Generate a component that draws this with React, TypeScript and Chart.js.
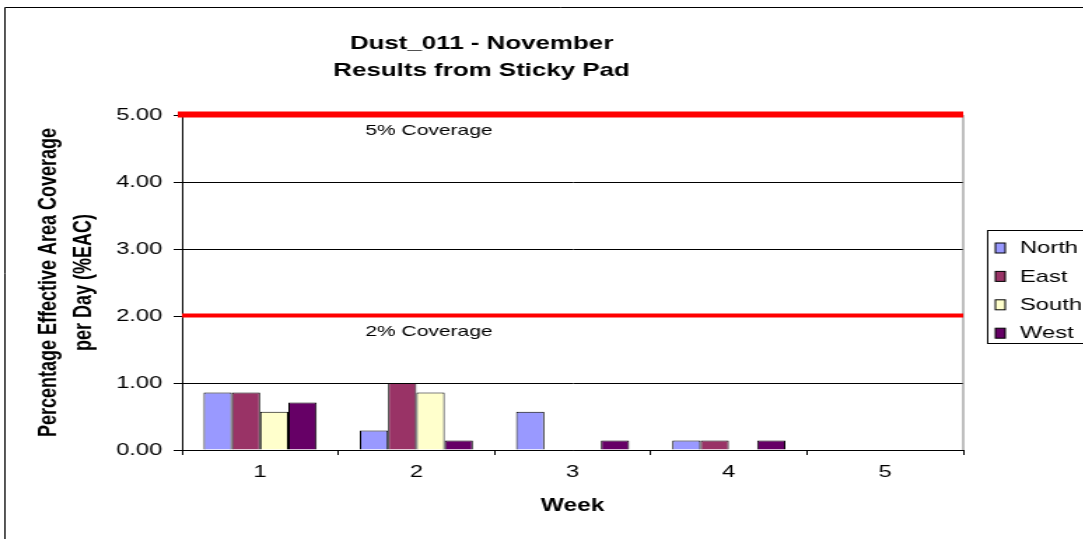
import React, { useEffect, useRef } from "react";
import { Chart, registerables } from "chart.js";

Chart.register(...registerables);

// ---- data ----
const weeks = ["1", "2", "3", "4", "5"];
const seriesNames = ["North", "East", "South", "West"];
const north = [0.86, 0.29, 0.57, 0.14, 0];
const east = [0.86, 1.0, 0, 0.14, 0];
const south = [0.57, 0.86, 0, 0, 0];
const west = [0.71, 0.14, 0.14, 0.14, 0];
const seriesColors = ["#9999FF", "#993366", "#FFFFCC", "#660066"];
const thresholdValues = [5, 2];
const thresholdLabels = ["5% Coverage", "2% Coverage"];
const titleLines = ["Dust_011 - November", "Results from Sticky Pad"];
const yTitleLines = ["Percentage Effective Area Coverage", "per Day (%EAC)"];
const xTitle = "Week";
const yMin = 0;
const yMax = 5;
const yStep = 1;

// ---- layout (unstretched canvas coordinates) ----
const S = 1.4; // horizontal stretch of the original rendering
const W = 796;
const H = 539;
const FONT = "'Liberation Sans', Arial, sans-serif";

const decorPlugin = {
  id: "decor",
  afterDatasetsDraw(chart: any) {
    const { ctx, chartArea, scales } = chart;
    const y = scales.y;
    ctx.save();
    // right border of plot area
    ctx.strokeStyle = "#808080";
    ctx.lineWidth = 1;
    ctx.beginPath();
    ctx.moveTo(chartArea.right, chartArea.top);
    ctx.lineTo(chartArea.right, chartArea.bottom);
    ctx.stroke();
    // threshold lines
    const widths = [6, 4];
    const lefts = [chartArea.left - 3, chartArea.left];
    thresholdValues.forEach((v, i) => {
      const py = y.getPixelForValue(v) - 0.5;
      ctx.strokeStyle = "#FF0000";
      ctx.lineWidth = widths[i];
      ctx.beginPath();
      ctx.moveTo(lefts[i], py);
      ctx.lineTo(chartArea.right, py);
      ctx.stroke();
      ctx.fillStyle = "#000";
      ctx.font = `15px ${FONT}`;
      ctx.textBaseline = "middle";
      ctx.textAlign = "left";
      ctx.fillText(thresholdLabels[i], 261, py + 16.5);
    });
    ctx.restore();
  },
  afterDraw(chart: any) {
    const { ctx } = chart;
    ctx.save();
    // outer chart frame (left & top visible)
    ctx.strokeStyle = "#000";
    ctx.lineWidth = 1;
    ctx.beginPath();
    ctx.moveTo(3.5, H + 2);
    ctx.lineTo(3.5, 7.5);
    ctx.lineTo(W + 2, 7.5);
    ctx.stroke();
    // legend
    const lx = 705;
    const ly = 230.5;
    ctx.strokeRect(lx + 0.5, ly, 200, 113);
    chart.data.datasets.forEach((ds: any, i: number) => {
      const cy = 248 + i * 28.4;
      ctx.fillStyle = ds.backgroundColor;
      ctx.fillRect(711, cy - 5, 7, 10);
      ctx.strokeStyle = "#000";
      ctx.strokeRect(711, cy - 5, 7, 10);
      ctx.fillStyle = "#000";
      ctx.font = `17px ${FONT}`;
      ctx.textBaseline = "middle";
      ctx.textAlign = "left";
      ctx.fillText(ds.label, 728.5, cy + 0.5);
    });
    ctx.restore();
  },
};

export default function App() {
  const ref = useRef<HTMLCanvasElement | null>(null);

  useEffect(() => {
    if (!ref.current) return;
    const seriesValues = [north, east, south, west];
    const chart = new Chart(ref.current, {
      type: "bar",
      data: {
        labels: weeks,
        datasets: seriesNames.map((name, i) => ({
          label: name,
          data: seriesValues[i],
          backgroundColor: seriesColors[i],
          borderColor: "#000",
          borderWidth: 1,
          categoryPercentage: 0.724,
          barPercentage: 1,
        })),
      },
      options: {
        responsive: false,
        animation: false,
        events: [],
        layout: { padding: { left: 0, top: 0, bottom: 0, right: 108 } },
        plugins: {
          legend: { display: false },
          tooltip: { enabled: false },
          title: {
            display: true,
            text: titleLines,
            color: "#000",
            font: { family: FONT, size: 18.5, weight: "bold", lineHeight: 27 / 18.5 },
            padding: { top: 30, bottom: 31 },
          },
        },
        scales: {
          x: {
            grid: {
              offset: true,
              drawOnChartArea: false,
              drawTicks: true,
              tickLength: 5,
              color: "#000",
            },
            border: { display: true, color: "#000", width: 1 },
            ticks: {
              color: "#000",
              font: { family: FONT, size: 17 },
              padding: 7,
              maxRotation: 0,
            },
            title: {
              display: true,
              text: xTitle,
              color: "#000",
              font: { family: FONT, size: 17.5, weight: "bold", lineHeight: 1.2 },
              padding: { top: 0, bottom: 22.5 },
            },
            afterFit(scale: any) {
              scale.height = 89;
            },
          },
          y: {
            min: yMin,
            max: yMax,
            grid: {
              color: "#000",
              lineWidth: 1,
              drawTicks: true,
              tickLength: 6,
            },
            border: { display: true, color: "#000", width: 1 },
            ticks: {
              stepSize: yStep,
              color: "#000",
              font: { family: FONT, size: 17 },
              padding: 8,
              callback: (v: any) => Number(v).toFixed(2),
            },
            title: {
              display: true,
              text: yTitleLines,
              color: "#000",
              font: { family: FONT, size: 18, weight: "bold", lineHeight: 25 / 18 },
              padding: { top: 23, bottom: 0 },
            },
            afterFit(scale: any) {
              scale.width = 130;
            },
          },
        },
      },
      plugins: [decorPlugin],
    });
    return () => chart.destroy();
  }, []);

  return (
    <div
      style={{
        position: "fixed",
        left: 0,
        top: 0,
        width: 1083,
        height: 539,
        overflow: "hidden",
        background: "#fff",
      }}
    >
      <canvas
        ref={ref}
        width={W}
        height={H}
        style={{
          position: "absolute",
          left: 0,
          top: 0,
          width: W,
          height: H,
          transform: `scaleX(${S})`,
          transformOrigin: "0 0",
        }}
      />
    </div>
  );
}
